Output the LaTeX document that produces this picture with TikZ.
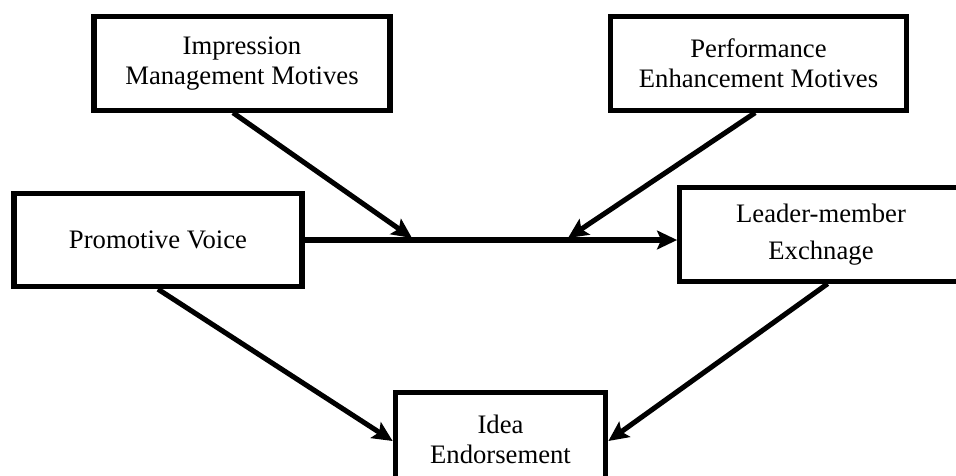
\documentclass[tikz,border=0pt]{standalone}
\usepackage{fontspec}
\setmainfont{Liberation Serif}
\usepackage{tikz}
\usetikzlibrary{arrows.meta,positioning}

\begin{document}
\begin{tikzpicture}[->,>={Stealth[length=15pt,width=14pt,inset=3pt]},x=0.75pt,y=-0.75pt,
  font=\fontsize{20}{22.5}\selectfont,
  var node/.style={rectangle,draw,line width=3.8pt,align=center,
                   minimum height=70pt,inner sep=0pt},
  link/.style={line width=3.8pt}]

  \clip (0,0) rectangle (956,475);

  \node[var node,minimum width=222pt] (IMM) at (242,63.5)  {Impression\\Management Motives};
  \node[var node,minimum width=222pt] (PEM) at (758.5,63.5) {Performance\\Enhancement Motives};

  \node[var node,minimum width=216pt] (PV)  at (158,240)   {Promotive Voice};
  \node[var node,minimum width=212pt] (LMX) at (821,234.5) {Leader-member\\[5pt]Exchnage};

  \node[var node,minimum width=158pt] (IE)  at (500.5,439) {Idea\\Endorsement};

  % points on the main path
  \coordinate (m1) at (412,238);
  \coordinate (m2) at (568,238);

  % main path
  \draw[link] (PV.east) -- (PV.east -| LMX.west);

  % moderators
  \draw[link] ([xshift=-6.75pt]IMM.south) -- (m1);
  \draw[link] ([xshift=-2.5pt]PEM.south) -- (m2);

  % paths to endorsement
  \draw[link] (PV.south) -- ([yshift=-1.5pt]IE.west);
  \draw[link] ([xshift=5pt]LMX.south) -- ([yshift=-1.5pt]IE.east);

\end{tikzpicture}
\end{document}
